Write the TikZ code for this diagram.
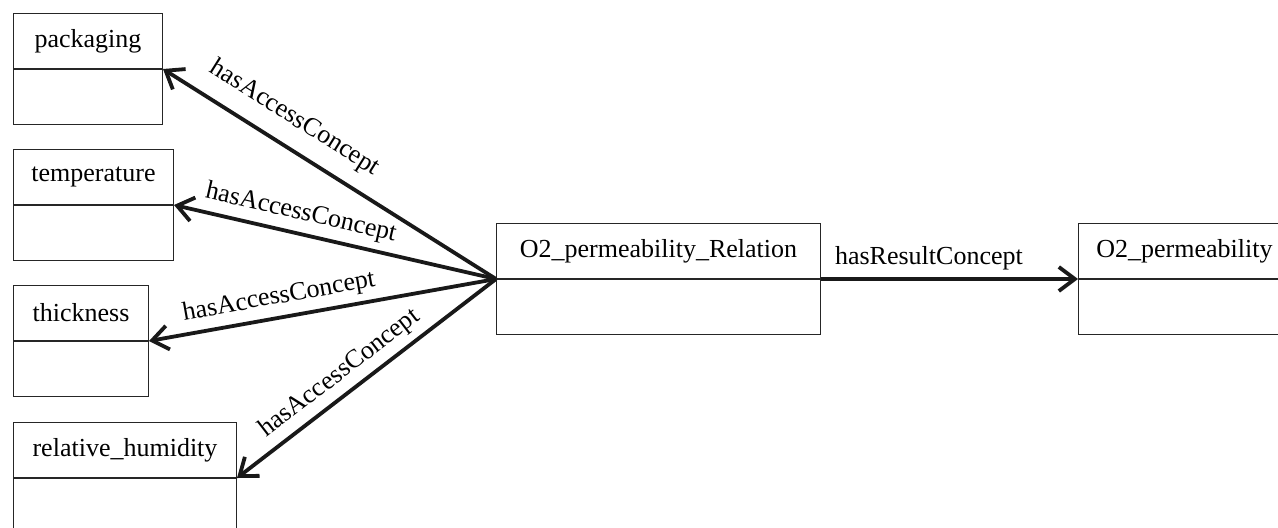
\documentclass[tikz,border=0pt]{standalone}
\usepackage{fontspec}
\setmainfont{Liberation Serif}
\usetikzlibrary{arrows.meta,positioning}
\tikzset{
  %class name compartment
  classTitle/.style = {draw=black!85, line width=0.5pt, minimum height=27.5pt,
    inner sep=0pt, anchor=north west, font=\fontsize{13}{15}\selectfont},
  %empty attribute compartment
  classBody/.style = {draw=black!85, line width=0.5pt, minimum height=27.5pt,
    inner sep=0pt},
  %relation arrow
  relArrow/.style = {line width=1.9pt, black!90,
    -{Straight Barb[length=8pt,width=12pt,line width=1.9pt]}},
  relLabel/.style = {font=\fontsize{13}{15}\selectfont, black, sloped, above}
}

\begin{document}
\begin{tikzpicture}[x=0.5pt,y=-0.5pt]
\useasboundingbox (0,0) rectangle (1278,527);
% concepts on the left
\node [classTitle, minimum width=74.5pt] (pkgTitle) at (13,13) {packaging};
\node [classBody, minimum width=74.5pt, below=0pt of pkgTitle] (pkgBody) {};
\node [classTitle, minimum width=80pt] (tempTitle) at (13,149) {temperature};
\node [classBody, minimum width=80pt, below=0pt of tempTitle] (tempBody) {};
\node [classTitle, minimum width=67.5pt] (thickTitle) at (13,285) {thickness};
\node [classBody, minimum width=67.5pt, below=0pt of thickTitle] (thickBody) {};
\node [classTitle, minimum width=111.5pt] (humTitle) at (13,422) {relative\_humidity};
\node [classBody, minimum width=111.5pt, below=0pt of humTitle] (humBody) {};
% relation and result
\node [classTitle, minimum width=162pt] (relTitle) at (496,223) {O2\_permeability\_Relation};
\node [classBody, minimum width=162pt, below=0pt of relTitle] (relBody) {};
\node [classTitle, minimum width=106pt] (permTitle) at (1078,223) {O2\_permeability};
\node [classBody, minimum width=106pt, below=0pt of permTitle] (permBody) {};

\draw [relArrow] (relTitle.south west) -- node [relLabel, above=4pt, pos=0.65] {hasAccessConcept} (pkgTitle.south east);
\draw [relArrow] (relTitle.south west) -- node [relLabel, pos=0.62] {hasAccessConcept} (tempTitle.south east);
\draw [relArrow] (relTitle.south west) -- node [relLabel, pos=0.615] {hasAccessConcept} (thickTitle.south east);
\draw [relArrow] (relTitle.south west) -- node [relLabel, pos=0.555] {hasAccessConcept} (humTitle.south east);
\draw [relArrow] (relTitle.south east) -- node [relLabel, pos=0.42] {hasResultConcept} (permTitle.south west);
\end{tikzpicture}
\end{document}
